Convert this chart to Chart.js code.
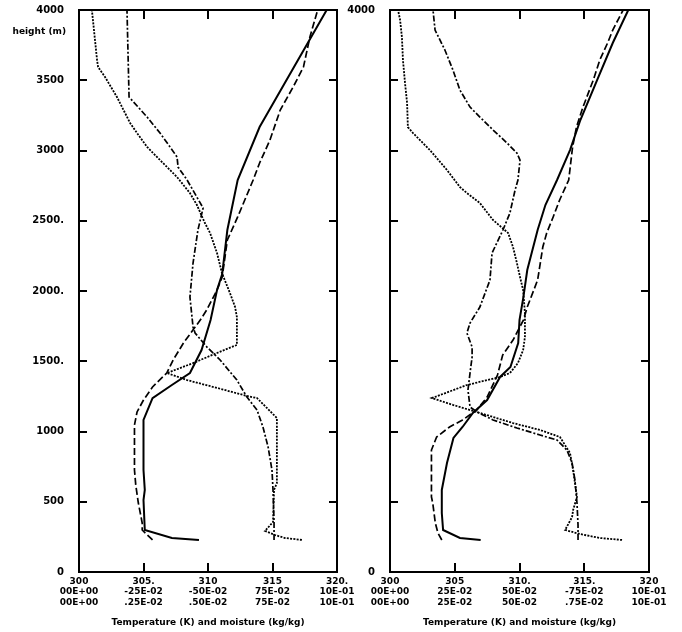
<!DOCTYPE html>
<html>
<head>
<meta charset="utf-8">
<title>Temperature and moisture profiles</title>
<script src="https://cdn.jsdelivr.net/npm/chart.js@4.4.1/dist/chart.umd.min.js"></script>
<style>
  html, body { margin: 0; padding: 0; background: #fff; }
  #wrap { position: relative; width: 682px; height: 632px; }
  canvas { position: absolute; left: 0; top: 0; }
</style>
</head>
<body>
<div id="wrap">
  <canvas id="left" width="682" height="632"></canvas>
  <canvas id="right" width="682" height="632"></canvas>
</div>
<script>
// --- data: heights (m), temperature (K), moisture (kg/kg) ---

// left panel
const leftSolidZ = [228, 242, 299, 512, 584, 726, 1082, 1238, 1331, 1416, 1580, 1793, 2007, 2121, 2434, 2790, 3167, 4000];
const leftSolidT = [309.3, 307.2, 305.1, 305.0, 305.1, 305.0, 305.0, 305.7, 307.2, 308.6, 309.5, 310.2, 310.7, 311.1, 311.5, 312.3, 314.0, 319.2];

const leftDashZ = [228, 299, 349, 491, 619, 726, 1046, 1139, 1224, 1317, 1416, 1509, 1630, 1793, 1865, 2007, 2100, 2363, 2527, 2790, 2911, 3074, 3288, 3452, 3594, 3808, 4000];
const leftDashT = [305.7, 304.9, 304.9, 304.6, 304.4, 304.3, 304.3, 304.5, 305.0, 305.7, 306.8, 307.3, 308.1, 309.4, 309.9, 310.7, 311.1, 311.5, 312.3, 313.5, 314.0, 314.8, 315.6, 316.6, 317.4, 317.9, 318.5];

const leftDotZ = [228, 242, 263, 292, 356, 584, 633, 1096, 1238, 1253, 1310, 1366, 1416, 1487, 1559, 1616, 1815, 1886, 1986, 2128, 2270, 2413, 2484, 2612, 2697, 2811, 2932, 3025, 3124, 3196, 3381, 3523, 3594, 3644, 3786, 3929, 4000];
const leftDotQ = [0.00864, 0.00798, 0.00760, 0.00721, 0.00752, 0.00756, 0.00767, 0.00767, 0.00690, 0.00651, 0.00535, 0.00419, 0.00341, 0.00442, 0.00535, 0.00612, 0.00612, 0.00605, 0.00585, 0.00554, 0.00535, 0.00508, 0.00488, 0.00457, 0.00430, 0.00380, 0.00314, 0.00264, 0.00225, 0.00198, 0.00147, 0.00101, 0.00074, 0.00070, 0.00062, 0.00054, 0.00050];

const leftDashDotZ = [228, 356, 584, 726, 890, 1032, 1153, 1245, 1366, 1509, 1601, 1701, 1744, 1957, 2199, 2434, 2591, 2790, 2882, 2954, 3025, 3124, 3238, 3381, 4000];
const leftDashDotQ = [0.00756, 0.00756, 0.00752, 0.00748, 0.00733, 0.00713, 0.00690, 0.00651, 0.00612, 0.00547, 0.00496, 0.00450, 0.00442, 0.00430, 0.00442, 0.00461, 0.00481, 0.00419, 0.00384, 0.00380, 0.00353, 0.00314, 0.00264, 0.00194, 0.00186];

// right panel
const rightSolidZ = [228, 242, 299, 420, 584, 776, 954, 1032, 1132, 1224, 1388, 1459, 1630, 1793, 1957, 2149, 2434, 2612, 2790, 3003, 3217, 3502, 3765, 4000];
const rightSolidT = [307.0, 305.4, 304.1, 304.0, 304.0, 304.4, 304.9, 305.6, 306.4, 307.5, 308.5, 309.3, 309.9, 310.0, 310.3, 310.6, 311.4, 312.0, 312.9, 313.9, 314.7, 316.0, 317.2, 318.4];

const rightDashZ = [228, 278, 349, 491, 534, 868, 961, 1032, 1082, 1153, 1245, 1402, 1544, 1651, 1793, 1886, 2078, 2313, 2413, 2527, 2648, 2790, 3025, 3167, 3309, 3502, 3644, 3765, 3857, 4000];
const rightDashT = [304.0, 303.7, 303.5, 303.3, 303.2, 303.2, 303.6, 304.6, 305.6, 306.7, 307.5, 308.3, 308.7, 309.5, 310.3, 310.6, 311.4, 311.8, 312.1, 312.6, 313.1, 313.8, 314.1, 314.4, 314.9, 315.7, 316.2, 316.8, 317.2, 318.0];

const rightDotZ = [228, 242, 270, 299, 391, 441, 534, 726, 847, 961, 1011, 1060, 1132, 1189, 1238, 1331, 1388, 1416, 1487, 1580, 1672, 1843, 2007, 2100, 2199, 2313, 2413, 2505, 2626, 2697, 2740, 2861, 3003, 3124, 3167, 3338, 3480, 3644, 3808, 3929, 4000];
const rightDotQ = [0.00896, 0.00811, 0.00734, 0.00676, 0.00703, 0.00707, 0.00722, 0.00707, 0.00695, 0.00656, 0.00579, 0.00475, 0.00347, 0.00243, 0.00162, 0.00297, 0.00425, 0.00463, 0.00494, 0.00514, 0.00521, 0.00521, 0.00514, 0.00502, 0.00490, 0.00475, 0.00456, 0.00398, 0.00347, 0.00297, 0.00270, 0.00220, 0.00154, 0.00089, 0.00069, 0.00066, 0.00058, 0.00050, 0.00046, 0.00039, 0.00031];

const rightDashDotZ = [228, 334, 491, 655, 776, 868, 939, 975, 1025, 1082, 1139, 1174, 1295, 1416, 1530, 1601, 1701, 1772, 1886, 2078, 2270, 2434, 2555, 2719, 2790, 2932, 2982, 3053, 3146, 3238, 3309, 3430, 3573, 3715, 3857, 4000];
const rightDashDotQ = [0.00726, 0.00726, 0.00722, 0.00714, 0.00703, 0.00683, 0.00645, 0.00579, 0.00490, 0.00398, 0.00336, 0.00309, 0.00301, 0.00309, 0.00317, 0.00317, 0.00297, 0.00309, 0.00347, 0.00386, 0.00394, 0.00436, 0.00463, 0.00483, 0.00494, 0.00502, 0.00490, 0.00452, 0.00398, 0.00347, 0.00309, 0.00270, 0.00243, 0.00212, 0.00174, 0.00166];

// tick labels (three rows under each x tick)
const leftTickRow1 = ['300', '305.', '310', '315', '320.'];
const leftTickRow2 = ['00E+00', '-25E-02', '-50E-02', '75E-02', '10E-01'];
const leftTickRow3 = ['00E+00', '.25E-02', '.50E-02', '75E-02', '10E-01'];
const rightTickRow1 = ['300', '305', '310.', '315.', '320'];
const rightTickRow2 = ['00E+00', '25E-02', '50E-02', '-75E-02', '10E-01'];
const rightTickRow3 = ['00E+00', '25E-02', '50E-02', '.75E-02', '10E-01'];
const leftHeightLabels = ['0', '500', '1000', '1500.', '2000.', '2500.', '3000', '3500', '4000'];
const rightHeightLabels = ['0', '', '', '', '', '', '', '', '4000'];

const xTitle = 'Temperature (K) and moisture (kg/kg)';
const FONT = 'DejaVu Sans';

function pontos(xs, zs) {
    return xs.map((x, i) => ({ x: x, y: zs[i] }));
}

// frame with inward ticks (like the old plot)
const moldura = {
    id: 'moldura',
    afterDatasetsDraw(chart) {
        const { ctx, chartArea: a, scales } = chart;
        ctx.save();
        ctx.strokeStyle = '#000';
        ctx.lineWidth = 2;
        ctx.strokeRect(a.left, a.top, a.right - a.left, a.bottom - a.top);
        ctx.beginPath();
        scales.x.ticks.forEach(t => {
            if (t.value <= 300 || t.value >= 320) return;
            const px = Math.round(scales.x.getPixelForValue(t.value));
            ctx.moveTo(px, a.bottom); ctx.lineTo(px, a.bottom - 9);
            ctx.moveTo(px, a.top); ctx.lineTo(px, a.top + 9);
        });
        scales.y.ticks.forEach(t => {
            if (t.value <= 0 || t.value >= 4000) return;
            const py = Math.round(scales.y.getPixelForValue(t.value));
            ctx.moveTo(a.left, py); ctx.lineTo(a.left + 8, py);
            ctx.moveTo(a.right, py); ctx.lineTo(a.right - 8, py);
        });
        ctx.stroke();
        if (chart.options.plugins.moldura && chart.options.plugins.moldura.yTitle) {
            ctx.fillStyle = '#000';
            ctx.font = 'bold 9px ' + FONT;
            ctx.textAlign = 'right';
            ctx.textBaseline = 'middle';
            ctx.fillText(chart.options.plugins.moldura.yTitle, a.left - 13, 32);
        }
        ctx.restore();
    }
};

function criarPainel(id, cfg) {
    const estilos = [
        { borderWidth: 2, borderDash: [] },
        { borderWidth: 1.7, borderDash: [7, 3] },
        { borderWidth: 1.8, borderDash: [2, 1.3] },
        { borderWidth: 1.7, borderDash: [6, 2, 2, 2] }
    ];
    const series = [
        { data: pontos(cfg.solidT, cfg.solidZ), xAxisID: 'x' },
        { data: pontos(cfg.dashT, cfg.dashZ), xAxisID: 'x' },
        { data: pontos(cfg.dotQ, cfg.dotZ), xAxisID: 'xq' },
        { data: pontos(cfg.dashDotQ, cfg.dashDotZ), xAxisID: 'xq' }
    ];
    const datasets = series.map((s, i) => Object.assign({
        data: s.data,
        xAxisID: s.xAxisID,
        yAxisID: 'y',
        borderColor: '#000',
        backgroundColor: '#000',
        pointRadius: 0,
        showLine: true,
        tension: 0,
        fill: false
    }, estilos[i]));

    return new Chart(document.getElementById(id), {
        type: 'scatter',
        data: { datasets },
        options: {
            responsive: false,
            animation: false,
            events: [],
            layout: { padding: { top: 10, left: 0, right: cfg.padRight, bottom: 0 } },
            plugins: {
                legend: { display: false },
                tooltip: { enabled: false },
                moldura: { yTitle: cfg.yTitle }
            },
            scales: {
                x: {
                    type: 'linear', position: 'bottom', min: 300, max: 320,
                    grid: { display: false, drawTicks: false },
                    border: { display: false },
                    afterFit: s => { s.height = 60; },
                    ticks: {
                        stepSize: 5, autoSkip: false, maxRotation: 0, padding: 4,
                        color: '#000',
                        font: { family: FONT, weight: 'bold', size: 9, lineHeight: '10.5px' },
                        callback: (v, i) => [cfg.row1[i], cfg.row2[i], cfg.row3[i]]
                    },
                    title: {
                        display: true, text: xTitle, color: '#000',
                        font: { family: FONT, weight: 'bold', size: 9 },
                        padding: { top: 0, bottom: 4 }
                    }
                },
                xq: {
                    type: 'linear', position: 'bottom', min: 0, max: 0.01,
                    display: false
                },
                y: {
                    type: 'linear', position: 'left', min: 0, max: 4000,
                    grid: { display: false, drawTicks: false },
                    border: { display: false },
                    // fixed width, and no extra top/bottom room for the end labels
                    afterFit: s => { s.width = cfg.axisWidth; s.paddingTop = 0; s.paddingBottom = 0; },
                    ticks: {
                        stepSize: 500, autoSkip: false, padding: 15,
                        color: '#000',
                        font: { family: FONT, weight: 'bold', size: 10 },
                        callback: (v, i) => cfg.yLabels[i]
                    }
                }
            }
        },
        plugins: [moldura]
    });
}

criarPainel('left', {
    solidT: leftSolidT, solidZ: leftSolidZ,
    dashT: leftDashT, dashZ: leftDashZ,
    dotQ: leftDotQ, dotZ: leftDotZ,
    dashDotQ: leftDashDotQ, dashDotZ: leftDashDotZ,
    row1: leftTickRow1, row2: leftTickRow2, row3: leftTickRow3,
    yLabels: leftHeightLabels, yTitle: 'height (m)',
    axisWidth: 79, padRight: 682 - 337
});

criarPainel('right', {
    solidT: rightSolidT, solidZ: rightSolidZ,
    dashT: rightDashT, dashZ: rightDashZ,
    dotQ: rightDotQ, dotZ: rightDotZ,
    dashDotQ: rightDashDotQ, dashDotZ: rightDashDotZ,
    row1: rightTickRow1, row2: rightTickRow2, row3: rightTickRow3,
    yLabels: rightHeightLabels, yTitle: '',
    axisWidth: 390, padRight: 682 - 649
});
</script>
</body>
</html>
